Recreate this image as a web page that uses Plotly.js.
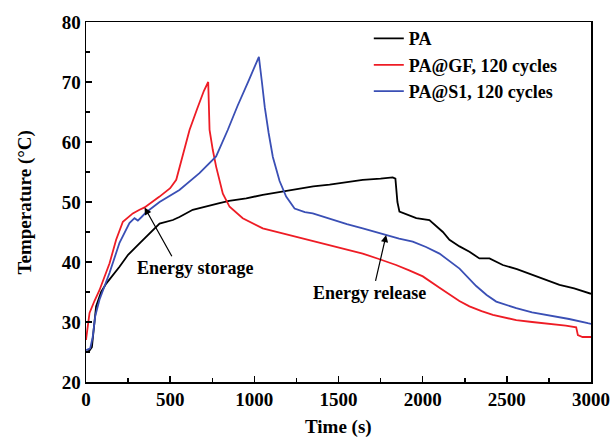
<!DOCTYPE html>
<html><head><meta charset="utf-8">
<script src="https://cdn.plot.ly/plotly-3.0.1.min.js"></script>
<style>html,body{margin:0;padding:0;background:#fff}#chart{width:611px;height:442px}</style>
</head><body><div id="chart"></div>
<script>
var paTime = [0,20,35,45,60,90,120,199,250,318,380,437,516,555,634,700,793,850,952,1050,1150,1250,1350,1447,1550,1644,1750,1822,1838,1850,1862,1962,2040,2100,2120,2159,2219,2278,2337,2397,2476,2560,2654,2750,2813,2900,3000];
var paTemp = [25,25.2,25.8,29,32.6,35,36.4,39.2,41.2,43.1,44.8,46.4,47,47.5,48.7,49.2,49.8,50.2,50.6,51.2,51.7,52.2,52.6,52.9,53.3,53.7,53.9,54.1,53.9,50,48.4,47.3,47,45.6,45,43.7,42.6,41.7,40.6,40.6,39.5,38.8,37.8,36.9,36.2,35.6,34.7];

var gfTime = [0,21,50,80,140,179,219,278,318,348,437,500,536,575,615,660,700,726,734,753,773,813,853,931,1050,1150,1249,1350,1447,1550,1644,1740,1842,1920,2001,2100,2159,2218,2278,2350,2417,2490,2556,2650,2754,2850,2912,2922,2950,3000];
var gfTemp = [27,31.5,33.5,35.3,39.8,43.7,46.7,48.1,48.7,49.1,50.9,52.3,53.7,57.6,62,65.5,68.5,70,62,58.7,55.9,51.4,49.2,47.3,45.6,44.9,44.2,43.4,42.8,42,41.4,40.5,39.5,38.6,37.6,35.7,34.6,33.5,32.6,31.8,31.2,30.7,30.3,30,29.7,29.4,29.1,27.8,27.5,27.5];

var s1Time = [0,25,40,55,80,140,199,258,288,308,330,358,437,555,674,773,842,900,969,1000,1027,1045,1062,1085,1110,1150,1189,1239,1300,1347,1447,1550,1644,1783,1860,1941,2020,2100,2159,2219,2318,2380,2437,2500,2556,2650,2754,2870,2981,3000];
var s1Temp = [25.3,25.6,27.5,31,33.7,38.2,43.2,46.5,47.3,46.9,47.5,48.3,50,52,54.8,57.6,62,66,70.4,72.3,74.2,70,65.8,61.5,57.5,53.5,50.9,48.9,48.3,48.1,47.2,46.3,45.6,44.5,43.9,43.4,42.5,41.4,40.1,38.9,36,34.5,33.4,32.8,32.3,31.6,31.1,30.5,29.8,29.7];

var seriesNames = ['PA','PA@GF, 120 cycles','PA@S1, 120 cycles'];
var xTicks = [0,500,1000,1500,2000,2500,3000];
var yTicks = [20,30,40,50,60,70,80];
var xTitle = 'Time (s)';
var yTitle = 'Temperature (°C)';

var fam = '"Liberation Serif", "Times New Roman", serif';
function tr(x,y,name,color){return {x:x,y:y,name:name,type:'scatter',mode:'lines',line:{color:color,width:1.8}};}
var data = [tr(paTime,paTemp,seriesNames[0],'#000000'), tr(gfTime,gfTemp,seriesNames[1],'#ee1c25'), tr(s1Time,s1Temp,seriesNames[2],'#3a4fb5')];

var titleFont = {family:fam,size:19,color:'#000',weight:'bold'};
var axisBase = {showgrid:false, zeroline:false, showline:true, linecolor:'#000', linewidth:1.5, mirror:true, ticks:'inside', ticklen:6, tickwidth:1.5, tickcolor:'#000', tickfont:{family:fam,size:19,color:'#000',weight:'bold'}};
var layout = {
  width:611, height:442,
  margin:{l:86, r:20, t:22, b:60},
  paper_bgcolor:'#fff', plot_bgcolor:'#fff',
  font:{family:fam, size:18, color:'#000'},
  showlegend:true,
  legend:{x:0.56, y:1.005, xanchor:'left', yanchor:'top', bgcolor:'rgba(0,0,0,0)', font:{family:fam,size:18,color:'#000',weight:'bold'}, tracegroupgap:0},
  xaxis:Object.assign({}, axisBase, {range:[0,3000], tickvals:xTicks, ticktext:xTicks.map(String), minor:{dtick:250, ticks:'inside', ticklen:4, tickwidth:1.5, tickcolor:'#000'}}),
  yaxis:Object.assign({}, axisBase, {range:[20,80], tickvals:yTicks, ticktext:yTicks.map(String), minor:{dtick:5, ticks:'inside', ticklen:4, tickwidth:1.5, tickcolor:'#000'}}),
  annotations:[
    {x:0.5, y:-0.125, xref:'paper', yref:'paper', text:xTitle, showarrow:false, xanchor:'center', yanchor:'middle', font:titleFont},
    {x:-0.12, y:0.5, xref:'paper', yref:'paper', text:yTitle, showarrow:false, textangle:-90, xanchor:'center', yanchor:'middle', font:titleFont},
    {x:348, y:49.1, ax:515, ay:40.7, xref:'x', yref:'y', axref:'x', ayref:'y', text:'', showarrow:true, arrowhead:2, arrowsize:1.2, arrowwidth:1.2, arrowcolor:'#000'},
    {x:650, y:39, xref:'x', yref:'y', text:'Energy storage', showarrow:false, font:{family:fam,size:18,color:'#000',weight:'bold'}},
    {x:1783, y:44.5, ax:1718, ay:36.6, xref:'x', yref:'y', axref:'x', ayref:'y', text:'', showarrow:true, arrowhead:2, arrowsize:1.2, arrowwidth:1.2, arrowcolor:'#000'},
    {x:1685, y:34.8, xref:'x', yref:'y', text:'Energy release', showarrow:false, font:{family:fam,size:18,color:'#000',weight:'bold'}}
  ]
};
Plotly.newPlot('chart', data, layout, {displayModeBar:false, staticPlot:true});
</script></body></html>
